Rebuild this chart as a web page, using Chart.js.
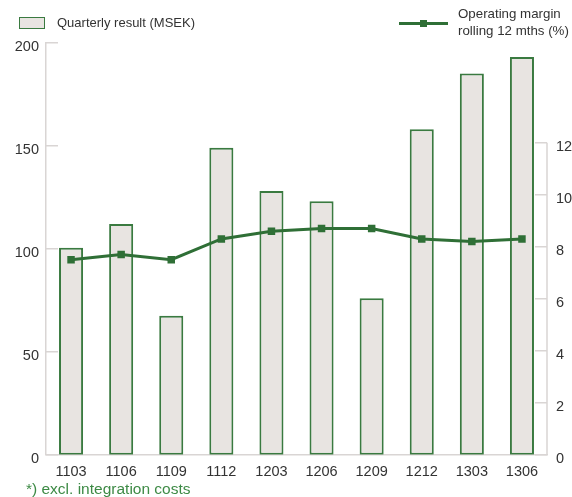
<!DOCTYPE html>
<html>
<head>
<meta charset="utf-8">
<script src="https://cdn.jsdelivr.net/npm/chart.js@4"></script>
<style>
  html, body { margin: 0; padding: 0; background: #fff; }
  #wrap { position: relative; width: 572px; height: 497px; overflow: hidden; font-family: "Liberation Sans", Arial, sans-serif; color: #333; }
  canvas { position: absolute; left: 0; top: 0; }
  .lg { position: absolute; white-space: nowrap; }
  #box1 { left: 19px; top: 17px; width: 24px; height: 10px; background: #e8e4e1; border: 1.5px solid #3a7a40; }
  #txt1 { left: 57px; top: 15px; font-size: 13px; line-height: 16px; }
  #line2 { left: 399px; top: 22px; width: 49px; height: 3px; background: #2f6f36; }
  #mk2 { left: 420px; top: 20px; width: 7px; height: 7px; background: #2f6f36; }
  #txt2 { left: 458px; top: 5px; font-size: 13.3px; line-height: 17px; }
  #foot { left: 26px; top: 480px; font-size: 15.5px; line-height: 18px; color: #3d8a45; }
</style>
</head>
<body>
<div id="wrap">
  <canvas id="c" width="572" height="497"></canvas>
  <div class="lg" id="box1"></div>
  <div class="lg" id="txt1">Quarterly result (MSEK)</div>
  <div class="lg" id="line2"></div>
  <div class="lg" id="mk2"></div>
  <div class="lg" id="txt2">Operating margin<br>rolling 12 mths (%)</div>
  <div class="lg" id="foot">*) excl. integration costs</div>
</div>
<script>
const categories = ["1103", "1106", "1109", "1112", "1203", "1206", "1209", "1212", "1303", "1306"];
const quarterlyResult = [100.5, 112, 67.5, 149, 128, 123, 76, 158, 185, 193];
const operatingMargin = [7.5, 7.7, 7.5, 8.3, 8.6, 8.7, 8.7, 8.3, 8.2, 8.3];
const leftTicks = [0, 50, 100, 150, 200];
const rightTicks = [0, 2, 4, 6, 8, 10, 12];

const axisGray = '#d9d5d4';
const textGray = '#333333';
const fontFamily = '"Liberation Sans", Arial, sans-serif';

const inwardTicks = {
  id: 'inwardTicks',
  afterDatasetsDraw(chart) {
    const ctx = chart.ctx;
    const yL = chart.scales.y;
    const yR = chart.scales.y2;
    const xL = chart.chartArea.left;
    const xR = chart.chartArea.right;
    ctx.save();
    ctx.strokeStyle = axisGray;
    ctx.lineWidth = 1.5;
    ctx.beginPath();
    leftTicks.forEach(v => {
      const p = yL.getPixelForValue(v);
      ctx.moveTo(xL, p); ctx.lineTo(xL + 12, p);
    });
    rightTicks.forEach(v => {
      const p = yR.getPixelForValue(v);
      ctx.moveTo(xR - 12, p); ctx.lineTo(xR, p);
    });
    ctx.moveTo(xR, yR.getPixelForValue(rightTicks[rightTicks.length - 1]));
    ctx.lineTo(xR, yR.getPixelForValue(0));
    ctx.stroke();
    ctx.restore();
  }
};

new Chart(document.getElementById('c'), {
  data: {
    labels: categories,
    datasets: [
      {
        type: 'line',
        data: operatingMargin,
        yAxisID: 'y2',
        borderColor: '#2f6f36',
        backgroundColor: '#2f6f36',
        borderWidth: 3,
        pointStyle: 'rect',
        pointRadius: 5.3,
        pointHoverRadius: 5.3,
        pointBorderWidth: 0,
        tension: 0,
        order: 1
      },
      {
        type: 'bar',
        data: quarterlyResult,
        yAxisID: 'y',
        backgroundColor: '#e8e4e1',
        borderColor: '#3a7a40',
        borderWidth: 2,
        borderSkipped: false,
        barPercentage: 0.48,
        categoryPercentage: 1,
        order: 2
      }
    ]
  },
  options: {
    responsive: false,
    animation: false,
    layout: { padding: { top: 42.7, left: 0, right: 0, bottom: 0 } },
    plugins: { legend: { display: false }, tooltip: { enabled: false } },
    scales: {
      x: {
        type: 'category',
        offset: true,
        grid: { display: false, drawTicks: false },
        border: { display: true, color: axisGray, width: 1.5 },
        ticks: { color: textGray, font: { family: fontFamily, size: 14.5 }, padding: 9, maxRotation: 0, autoSkip: false },
        afterFit(s) { s.height = 42.3; }
      },
      y: {
        position: 'left',
        min: 0, max: 200,
        grid: { display: false, drawTicks: false },
        border: { display: true, color: axisGray, width: 1.5 },
        ticks: { stepSize: 50, color: textGray, font: { family: fontFamily, size: 14.5 }, padding: 7, labelOffset: 4 },
        afterBuildTicks(s) { s.ticks = leftTicks.map(v => ({ value: v })); },
        afterFit(s) { s.width = 46; }
      },
      y2: {
        position: 'right',
        min: 0, max: 15.85,
        grid: { display: false, drawTicks: false },
        border: { display: false },
        ticks: { stepSize: 2, color: textGray, font: { family: fontFamily, size: 14.5 }, padding: 9, labelOffset: 4 },
        afterBuildTicks(s) { s.ticks = rightTicks.map(v => ({ value: v })); },
        afterFit(s) { s.width = 25; }
      }
    }
  },
  plugins: [inwardTicks]
});
</script>
</body>
</html>
